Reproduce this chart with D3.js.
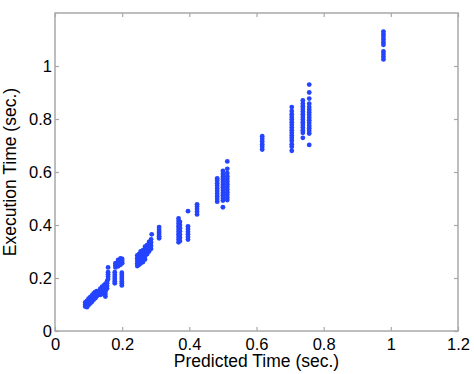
<!DOCTYPE html>
<html>
<head>
<meta charset="utf-8">
<script src="https://cdn.jsdelivr.net/npm/d3@7"></script>
<style>
body { margin: 0; background: #fff; }
text { font-family: "Liberation Sans", Arial, sans-serif; }
</style>
</head>
<body>
<div id="chart"></div>
<script>
// predicted time (x) and execution time (y), listed column by column
var predicted = [
  0.090,0.090,0.090, 0.095,0.095,0.095,0.095, 0.100,0.100,0.100,0.100,
  0.105,0.105,0.105,0.105, 0.110,0.110,0.110,0.110, 0.115,0.115,0.115,0.115,
  0.120,0.120,0.120,0.120, 0.125,0.125,0.125,
  0.135,0.135,0.135,0.135, 0.140,0.140,0.140,0.140, 0.145,0.145,0.145,0.145,
  0.150,0.150,0.150,0.150,0.150,0.150, 0.155,0.155,0.155,0.155,
  0.158,0.158,0.158,0.158,0.158,
  0.178,0.178,0.178,0.178,0.178,0.178, 0.180,0.180,0.180, 0.188,0.188,0.188,0.188,
  0.195,0.195,0.195,0.195, 0.199,0.199,0.199,0.199,0.199,0.199,0.199, 0.200,0.200,0.200,
  0.245,0.245,0.245,0.245,0.245, 0.250,0.250,0.250,0.250,0.250,
  0.255,0.255,0.255,0.255,0.255, 0.262,0.262,0.262,0.262,0.262,
  0.268,0.268,0.268,0.268,0.268, 0.274,0.274,0.274,0.274, 0.280,0.280,0.280,0.280,
  0.286,0.286,0.286,0.286, 0.288,
  0.310,0.310,0.310,0.310,0.310,0.310,
  0.368,0.368,0.368,0.368,0.368,0.368,0.368,0.368,0.368,0.368,
  0.372,0.372,0.372,0.372,0.372,0.372,0.372,
  0.396,0.396,0.396,0.396,0.396,0.396,0.396,
  0.423,0.423,0.423,0.423,0.423,
  0.483,0.483,0.483,0.483,0.483,0.483,0.483,0.483,0.483,0.483,
  0.500,0.500,0.500,0.500,0.500,0.500,0.500,0.500,0.500,0.500,0.500,0.500,0.500,
  0.513,0.513,0.513,0.513,0.513,0.513,0.513,0.513,0.513,0.513,0.513,0.513,0.513,
  0.617,0.617,0.617,0.617,0.617,0.617,
  0.705,0.705,0.705,0.705,0.705,0.705,0.705,0.705,0.705,0.705,0.705,0.705,0.705,0.705,0.705,0.705,
  0.738,0.738,0.738,0.738,0.738,0.738,0.738,0.738,0.738,0.738,0.738,0.738,0.738,0.738,
  0.757,0.757,0.757,0.757,0.757,0.757,0.757,0.757,0.757,0.757,0.757,0.757,0.757,0.757,0.757,0.757,
  0.978,0.978,0.978,0.978,0.978,0.978,0.978,0.978,0.978,0.978
];
var execution = [
  0.092,0.100,0.108, 0.090,0.098,0.106,0.114, 0.098,0.106,0.114,0.122,
  0.104,0.112,0.120,0.128, 0.110,0.118,0.126,0.134, 0.118,0.126,0.134,0.142,
  0.124,0.132,0.140,0.148, 0.132,0.140,0.150,
  0.136,0.144,0.152,0.160, 0.140,0.150,0.158,0.166, 0.146,0.156,0.164,0.172,
  0.130,0.140,0.150,0.160,0.170,0.178, 0.160,0.170,0.180,0.188,
  0.196,0.206,0.214,0.222,0.240,
  0.180,0.188,0.196,0.204,0.212,0.222, 0.240,0.248,0.256, 0.244,0.252,0.260,0.268,
  0.250,0.258,0.266,0.274, 0.172,0.180,0.188,0.196,0.204,0.212,0.220, 0.256,0.264,0.272,
  0.245,0.255,0.265,0.275,0.285, 0.250,0.260,0.270,0.280,0.290,
  0.255,0.265,0.275,0.290,0.300, 0.260,0.270,0.282,0.295,0.305,
  0.270,0.280,0.292,0.305,0.318, 0.290,0.300,0.312,0.324, 0.300,0.312,0.325,0.336,
  0.310,0.322,0.334,0.346, 0.365,
  0.350,0.358,0.366,0.374,0.382,0.392,
  0.335,0.345,0.355,0.365,0.375,0.385,0.395,0.405,0.415,0.425,
  0.340,0.352,0.364,0.376,0.388,0.400,0.412,
  0.345,0.355,0.365,0.375,0.385,0.395,0.452,
  0.440,0.450,0.460,0.470,0.478,
  0.488,0.498,0.508,0.518,0.528,0.538,0.548,0.558,0.568,0.576,
  0.467,0.492,0.502,0.512,0.522,0.532,0.542,0.552,0.562,0.572,0.582,0.592,0.604,
  0.494,0.504,0.514,0.524,0.534,0.544,0.554,0.564,0.574,0.584,0.596,0.612,0.640,
  0.685,0.695,0.705,0.715,0.725,0.735,
  0.680,0.695,0.705,0.718,0.728,0.738,0.748,0.758,0.768,0.778,0.788,0.798,0.808,0.818,0.830,0.845,
  0.729,0.748,0.758,0.768,0.778,0.788,0.798,0.808,0.818,0.828,0.838,0.848,0.858,0.870,
  0.702,0.745,0.755,0.765,0.775,0.785,0.795,0.805,0.815,0.825,0.835,0.845,0.858,0.877,0.900,0.930,
  1.025,1.035,1.045,1.055,1.080,1.090,1.100,1.110,1.120,1.130
];
var xTicks = [0, 0.2, 0.4, 0.6, 0.8, 1, 1.2];
var yTicks = [0, 0.2, 0.4, 0.6, 0.8, 1];

var svg_w = 474, svg_h = 374;
var plotLeft = 55, plotRight = 458, plotTop = 13, plotBottom = 331;

var svg = d3.select("#chart").append("svg")
  .attr("width", svg_w)
  .attr("height", svg_h);

var x = d3.scaleLinear().domain([0, 1.2]).range([plotLeft, plotRight]);
var y = d3.scaleLinear().domain([0, 1.2]).range([plotBottom, plotTop]);

var axisColor = "#a8a8a8";

// dots first, box drawn on top
svg.append("g")
  .selectAll("circle")
  .data(predicted)
  .enter()
  .append("circle")
  .attr("cx", function(d) { return x(d); })
  .attr("cy", function(d, i) { return y(execution[i]); })
  .attr("r", 2.4)
  .attr("fill", "#2444ff");

// bottom and left axes, ticks pointing inward
svg.append("g")
  .attr("transform", "translate(0," + plotBottom + ")")
  .call(d3.axisBottom(x).tickValues(xTicks).tickSizeInner(-4).tickSizeOuter(0).tickPadding(7)
    .tickFormat(d3.format("")));

svg.append("g")
  .attr("transform", "translate(" + plotLeft + ",0)")
  .call(d3.axisLeft(y).tickValues(yTicks).tickSizeInner(-4).tickSizeOuter(0).tickPadding(3)
    .tickFormat(d3.format("")));

// mirrored ticks on top and right
svg.append("g")
  .attr("transform", "translate(0," + plotTop + ")")
  .call(d3.axisTop(x).tickValues(xTicks).tickSizeInner(-4).tickSizeOuter(0).tickFormat(""));
svg.append("g")
  .attr("transform", "translate(" + plotRight + ",0)")
  .call(d3.axisRight(y).tickValues(yTicks).tickSizeInner(-4).tickSizeOuter(0).tickFormat(""));

svg.selectAll(".domain").remove();
svg.selectAll(".tick line").attr("stroke", axisColor).attr("stroke-width", 1.2);
svg.selectAll(".tick text")
  .attr("fill", "#000")
  .style("font-family", "'Liberation Sans', Arial, sans-serif")
  .style("font-size", "16.5px");

// box
svg.append("rect")
  .attr("x", plotLeft)
  .attr("y", plotTop)
  .attr("width", plotRight - plotLeft)
  .attr("height", plotBottom - plotTop)
  .attr("fill", "none")
  .attr("stroke", axisColor)
  .attr("stroke-width", 1.5);

svg.append("text")
  .attr("x", (plotLeft + plotRight) / 2)
  .attr("y", 367)
  .attr("text-anchor", "middle")
  .style("font-size", "17.5px")
  .text("Predicted Time (sec.)");

svg.append("text")
  .attr("transform", "translate(16," + ((plotTop + plotBottom) / 2) + ") rotate(-90)")
  .attr("text-anchor", "middle")
  .style("font-size", "17.5px")
  .text("Execution Time (sec.)");
</script>
</body>
</html>
